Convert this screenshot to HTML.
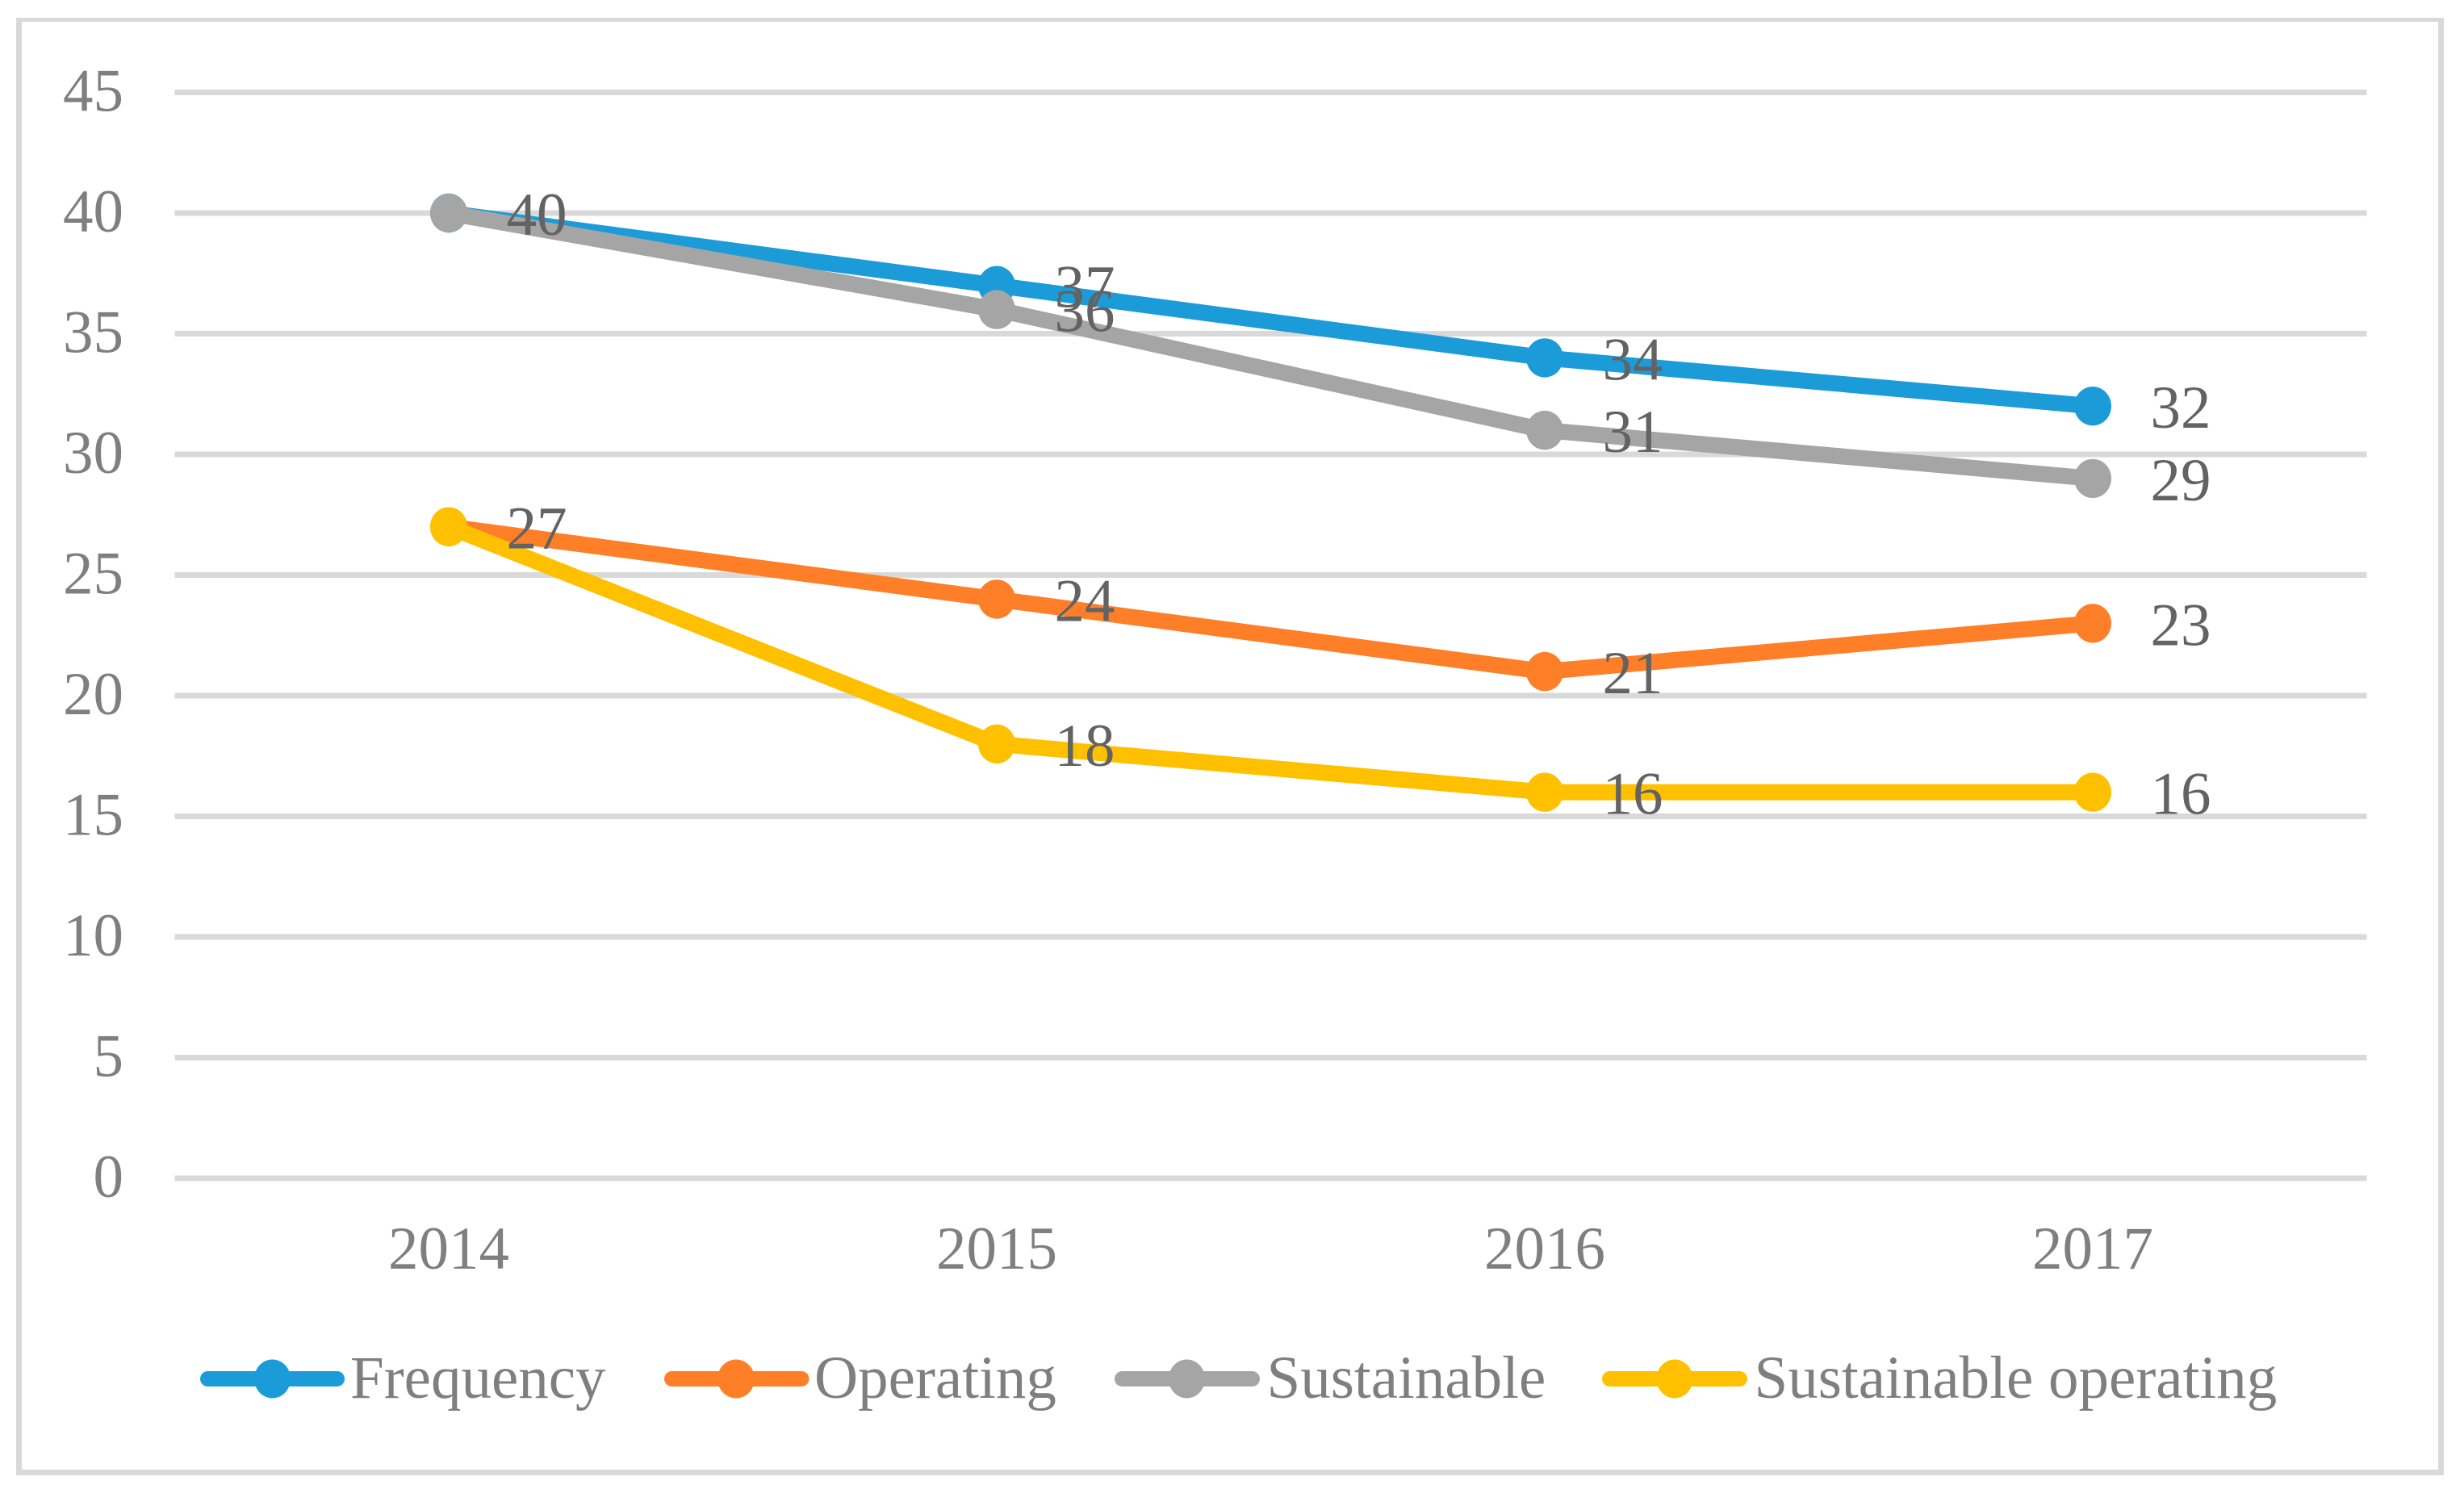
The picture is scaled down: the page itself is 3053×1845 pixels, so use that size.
<!DOCTYPE html>
<html lang="en">
<head>
<meta charset="utf-8">
<title>Line chart 2014-2017</title>
<style>
html,body{margin:0;padding:0;background:#fff;width:3053px;height:1845px;overflow:hidden}
svg{display:block;position:absolute;left:0;top:0}
text{font-family:"Liberation Serif",serif;font-size:75px}
.axis-text{fill:#7f7f7f}
.value-text{fill:#636363}
</style>
</head>
<body>
<svg id="chart" xmlns="http://www.w3.org/2000/svg" width="3053" height="1845" viewBox="0 0 3053 1845">
  <g fill="#d9d9d9">
    <rect x="20" y="22" width="3008" height="5"/>
    <rect x="20" y="1821" width="3008" height="7"/>
    <rect x="20" y="22" width="7" height="1806"/>
    <rect x="3021" y="22" width="7" height="1806"/>
  </g>
  <g id="grid"></g>
  <g id="y-axis"></g>
  <g id="x-axis"></g>
  <g id="series"></g>
  <g id="labels"></g>
  <g>
    <g>
      <line x1="257.5" x2="417.5" y1="1708.5" y2="1708.5" stroke="#1b9cd9" stroke-width="19" stroke-linecap="round"/>
      <ellipse cx="337.5" cy="1708.5" rx="22.5" ry="24" fill="#1b9cd9"/>
      <text class="axis-text" x="434" y="1732">Frequency</text>
    </g>
    <g>
      <line x1="832.5" x2="993" y1="1708.5" y2="1708.5" stroke="#fe7f27" stroke-width="19" stroke-linecap="round"/>
      <ellipse cx="912" cy="1708.5" rx="23" ry="24" fill="#fe7f27"/>
      <text class="axis-text" x="1009" y="1732">Operating</text>
    </g>
    <g>
      <line x1="1390.5" x2="1551.5" y1="1708.5" y2="1708.5" stroke="#a5a5a5" stroke-width="19" stroke-linecap="round"/>
      <ellipse cx="1470.5" cy="1708.5" rx="22.5" ry="24" fill="#a5a5a5"/>
      <text class="axis-text" x="1569.5" y="1732">Sustainable</text>
    </g>
    <g>
      <line x1="1994.5" x2="2155.5" y1="1708.5" y2="1708.5" stroke="#ffc000" stroke-width="19" stroke-linecap="round"/>
      <ellipse cx="2075" cy="1708.5" rx="22.5" ry="24" fill="#ffc000"/>
      <text class="axis-text" x="2173.5" y="1732">Sustainable operating</text>
    </g>
  </g>
</svg>
<script>
var categories = ["2014", "2015", "2016", "2017"];
var yTicks = [0, 5, 10, 15, 20, 25, 30, 35, 40, 45];
var frequency = [40, 37, 34, 32];
var operating = [27, 24, 21, 23];
var sustainable = [40, 36, 31, 29];
var sustainableOperating = [27, 18, 16, 16];

var NS = "http://www.w3.org/2000/svg";
var plotLeft = 216.5, plotRight = 2932.5, y0 = 1460, y45 = 114.5, yMax = 45;

function xPos(i) { return plotLeft + (plotRight - plotLeft) * (i + 0.5) / categories.length; }
function yPos(v) { return y0 - (y0 - y45) * v / yMax; }
function make(tag, attrs, parent) {
  var el = document.createElementNS(NS, tag);
  for (var k in attrs) { el.setAttribute(k, attrs[k]); }
  parent.appendChild(el);
  return el;
}

var gridG = document.getElementById("grid");
var yG = document.getElementById("y-axis");
var xG = document.getElementById("x-axis");
var seriesG = document.getElementById("series");
var labelsG = document.getElementById("labels");

yTicks.forEach(function (t) {
  var line = make("line", { x1: plotLeft, x2: plotRight, y1: yPos(t), y2: yPos(t), stroke: "#d9d9d9", "stroke-width": 7 }, gridG);
  
  
  var label = make("text", { x: 153, y: yPos(t) + 23, "text-anchor": "end", "class": "axis-text" }, yG);
  label.textContent = String(t);
  
  
});

categories.forEach(function (c, i) {
  var label = make("text", { x: xPos(i), y: 1572, "text-anchor": "middle", "class": "axis-text" }, xG);
  label.textContent = c;
  
  
});

function drawSeries(key, values, color) {
  var pts = values.map(function (v, i) { return xPos(i) + "," + yPos(v); }).join(" ");
  var line = make("polyline", { points: pts, fill: "none", stroke: color, "stroke-width": 20, "stroke-linejoin": "round", "stroke-linecap": "round" }, seriesG);
  
  
  values.forEach(function (v, i) {
    var dot = make("ellipse", { cx: xPos(i), cy: yPos(v), rx: 23, ry: 24.2, fill: color }, seriesG);
    
    
    var label = make("text", { x: xPos(i) + 71.5, y: yPos(v) + 27, "class": "value-text" }, labelsG);
    label.textContent = String(v);
    
    
  });
}

drawSeries("frequency", frequency, "#1b9cd9");
drawSeries("operating", operating, "#fe7f27");
drawSeries("sustainable", sustainable, "#a5a5a5");
drawSeries("sustainable-operating", sustainableOperating, "#ffc000");
</script>
</body>
</html>
